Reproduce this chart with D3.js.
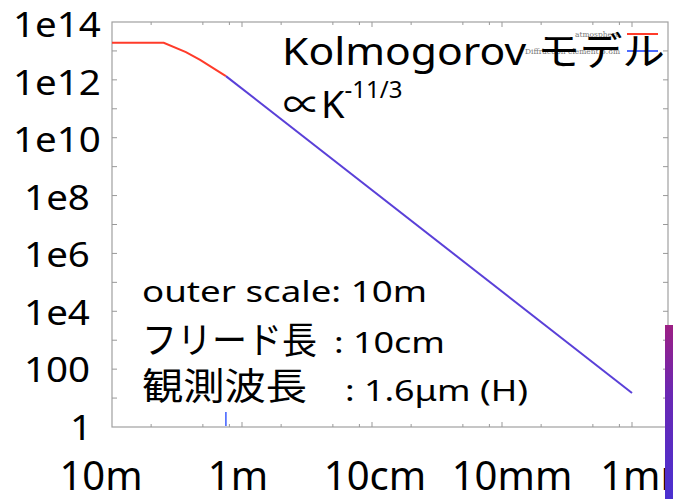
<!DOCTYPE html>
<html>
<head>
<meta charset="utf-8">
<script src="https://cdn.jsdelivr.net/npm/d3@7"></script>
<style>
  body { margin: 0; background: #fff; }
  text { font-family: "Noto Sans", "Noto Sans CJK JP", sans-serif; fill: #000; }
</style>
</head>
<body>
<div id="container"></div>
<script>
// データ（空間スケール [m] とパワー）
var atmScale = [10, 4.0, 2.7, 2.1, 1.33];
var atmPower = [1.9e13, 1.9e13, 9.1e12, 4.9e12, 1.35e12];
var elemScale = [1.33, 0.001];
var elemPower = [1.35e12, 15];
var markerScale = 1.33;

// 目盛り
var xMajorTicks = [10, 1, 0.1, 0.01, 0.001];
var xMinorFactors = [2, 5, 8];
var yTicks = [10, 100, 1e3, 1e4, 1e5, 1e6, 1e7, 1e8, 1e9, 1e10, 1e11, 1e12, 1e13];

// ラベル
var xLabelValues = [10, 1, 0.1, 0.01, 0.001];
var xLabels = ["10m", "1m", "10cm", "10mm", "1mm"];
var yLabelValues = [1e14, 1e12, 1e10, 1e8, 1e6, 1e4, 100, 1];
var yLabels = ["1e14", "1e12", "1e10", "1e8", "1e6", "1e4", "100", "1"];
var legendNames = ["atmosphere", "Diffraction element 3.8m"];

var width = 673, height = 499;
var frame = { left: 112, top: 22, right: 668, bottom: 427 };

var svg = d3.select("#container")
  .append("svg")
  .attr("width", width)
  .attr("height", height);

// スケール
var x = d3.scaleLog().domain([10, 0.001]).range([112, 632]);
var y = d3.scaleLog().domain([1, 1e14]).range([frame.bottom, frame.top]);
// テキストラベル用（プロットとは少しずれて置かれている）
var xLabelPos = d3.scaleLog().domain([10, 0.001]).range([101, 649]);
var yLabelPos = d3.scaleLog().domain([1, 1e14]).range([440, 37]);

// 枠
svg.append("rect")
  .attr("x", frame.left).attr("y", frame.top)
  .attr("width", frame.right - frame.left)
  .attr("height", frame.bottom - frame.top)
  .attr("fill", "none")
  .attr("stroke", "#a0a0a0")
  .attr("stroke-width", 1.2);

// x 目盛り（上下）
var xMinor = [];
xMajorTicks.forEach(function(v) {
  xMinorFactors.forEach(function(f) {
    var t = v / f;
    if (x(t) < frame.right - 2) xMinor.push(t);
  });
});

function xTickLines(vals, len) {
  [frame.bottom, frame.top].forEach(function(base, i) {
    var dir = i == 0 ? -1 : 1;
    svg.selectAll(null)
      .data(vals)
      .enter().append("line")
      .attr("x1", function(d) { return x(d) })
      .attr("x2", function(d) { return x(d) })
      .attr("y1", base)
      .attr("y2", base + dir * len)
      .attr("stroke", "#999")
      .attr("stroke-width", 1);
  });
}
xTickLines(xMajorTicks.filter(function(d) { return x(d) > frame.left + 2 }), 5);
xTickLines(xMinor, 3);

// y 目盛り（左右）
[frame.left, frame.right].forEach(function(base, i) {
  var dir = i == 0 ? 1 : -1;
  svg.selectAll(null)
    .data(yTicks)
    .enter().append("line")
    .attr("x1", base)
    .attr("x2", base + dir * 5)
    .attr("y1", function(d) { return y(d) })
    .attr("y2", function(d) { return y(d) })
    .attr("stroke", "#999")
    .attr("stroke-width", 1);
});

// 線
var line = d3.line()
  .x(function(d) { return x(d[0]) })
  .y(function(d) { return y(d[1]) });

svg.append("path")
  .datum(d3.zip(atmScale, atmPower))
  .attr("d", line)
  .attr("fill", "none")
  .attr("stroke", "#ff3b2a")
  .attr("stroke-width", 2);

svg.append("path")
  .datum(d3.zip(elemScale, elemPower))
  .attr("d", line)
  .attr("fill", "none")
  .attr("stroke", "#5a40d8")
  .attr("stroke-width", 2);

// 青い縦線
svg.append("line")
  .attr("x1", x(markerScale)).attr("x2", x(markerScale))
  .attr("y1", frame.bottom - 1).attr("y2", frame.bottom - 15)
  .attr("stroke", "#3b5cff")
  .attr("stroke-width", 1.5);

// 凡例（元のグラフの小さい凡例）
var legendColors = ["#ff3b2a", "#4d6cff"];
var legendWidths = [45, 95];
legendNames.forEach(function(name, i) {
  var ly = 34 + i * 17;
  svg.append("line")
    .attr("x1", 627).attr("x2", 658)
    .attr("y1", ly).attr("y2", ly)
    .attr("stroke", legendColors[i])
    .attr("stroke-width", 2);
  svg.append("text")
    .text(name)
    .attr("x", 620 - legendWidths[i])
    .attr("y", ly + 3)
    .attr("textLength", legendWidths[i])
    .attr("lengthAdjust", "spacingAndGlyphs")
    .style("font-family", "'DejaVu Serif', serif")
    .style("fill", "#777")
    .attr("font-size", 8);
});

// 軸ラベル
svg.selectAll(".ylab")
  .data(yLabelValues)
  .enter().append("text")
  .attr("class", "ylab")
  .text(function(d, i) { return yLabels[i] })
  .attr("x", function(d) { return d == 1 ? 81 : 57 })
  .attr("y", function(d) { return yLabelPos(d) })
  .attr("text-anchor", "middle")
  .attr("font-size", 35)
  .attr("transform", function(d) {
    // 横にやや引き伸ばされた文字
    var cx = d == 1 ? 81 : 57;
    return "translate(" + cx + ",0) scale(1.1,1) translate(" + (-cx) + ",0)";
  });

svg.selectAll(".xlab")
  .data(xLabelValues)
  .enter().append("text")
  .attr("class", "xlab")
  .text(function(d, i) { return xLabels[i] })
  .attr("x", function(d) { return xLabelPos(d) })
  .attr("y", 490)
  .attr("text-anchor", "middle")
  .attr("font-size", 40);

// 注釈
svg.append("text")
  .text("Kolmogorov モデル")
  .attr("x", 282).attr("y", 65)
  .attr("font-size", 39)
  .attr("textLength", 383)
  .attr("lengthAdjust", "spacingAndGlyphs");

var prop = svg.append("text").attr("x", 283).attr("y", 118).attr("font-size", 38);
prop.append("tspan").text("∝K");
prop.append("tspan").text("-11/3").attr("font-size", 24).attr("dy", -20);

function note(str, xx, yy, size, len) {
  svg.append("text")
    .text(str)
    .attr("x", xx).attr("y", yy)
    .attr("font-size", size)
    .attr("textLength", len)
    .attr("lengthAdjust", "spacingAndGlyphs");
}
note("outer scale: 10m", 142, 302, 29, 285);
note("フリード長", 142, 354, 37, 175);
note(": 10cm", 334, 353, 29, 111);
note("観測波長", 142, 400, 37, 165);
note(": 1.6μm (H)", 345, 401, 29, 183);

// 右下の紫の帯
var grad = svg.append("defs").append("linearGradient")
  .attr("id", "bar").attr("x1", 0).attr("x2", 0).attr("y1", 0).attr("y2", 1);
grad.append("stop").attr("offset", 0).attr("stop-color", "#9c1f84");
grad.append("stop").attr("offset", 0.4).attr("stop-color", "#6a28b4");
grad.append("stop").attr("offset", 1).attr("stop-color", "#4a30d0");

svg.append("rect")
  .attr("x", 665).attr("y", 325)
  .attr("width", 8).attr("height", 174)
  .attr("fill", "url(#bar)");
</script>
</body>
</html>
